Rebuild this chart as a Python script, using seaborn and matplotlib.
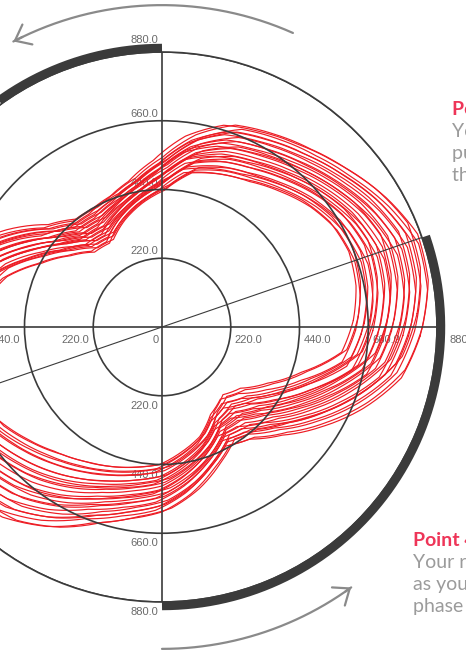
import numpy as np
import pandas as pd
import matplotlib
matplotlib.use('Agg')
import matplotlib.pyplot as plt
import seaborn as sns
from matplotlib.transforms import offset_copy

# ==================== data ====================
# band of loops, inner / outer edge every 10 degrees (0 = east, counter-clockwise)
theta_deg = list(range(0, 360, 10))
r_inner = [608, 630, 640, 630, 602, 566, 534, 515, 496, 432, 397, 358,
           314, 320, 368, 432, 518, 570, 602, 618, 614, 592, 550, 512,
           486, 467, 448, 432, 397, 365, 314, 288, 314, 378, 464, 576]
r_outer = [838, 870, 875, 832, 784, 746, 717, 691, 627, 544, 486, 454,
           442, 445, 496, 595, 688, 768, 826, 858, 864, 848, 826, 800,
           742, 672, 627, 595, 544, 486, 438, 464, 528, 614, 707, 794]

# where each loop sits inside the band, and its small phase shift (deg)
loop_pos = [0.02, 0.05, 0.09, 0.13, 0.17, 0.21, 0.25, 0.29, 0.32, 0.36, 0.40, 0.44, 0.47,
            0.51, 0.55, 0.59, 0.63, 0.67, 0.71, 0.75, 0.79, 0.83, 0.87, 0.91, 0.95, 0.98]
loop_shift = [2, -1, 3, -2, 1, -3, 2, -1, 3, -2, 1, -3, 0,
              3, -1, 2, -3, 1, -2, 2, -2, 1, -1, 3, -2, 0]

ring_ticks = [220, 440, 660, 880]
phase_line_deg = [19, 199]
phase_arcs_deg = [(90, 199), (270, 379)]
arrow_arcs_deg = [(66, 117.5), (270, 306)]
arrow_r = 1030

note_titles = ['Point 1', 'Point 4']
note_bodies = [['Your power builds up', 'pushing down through', 'the front of the stroke'],
               ['Your rear leg recovers', 'as you pull through the', 'phase at the bottom']]

# ==================== style ====================
sns.set_theme(style='white')
plt.rcParams['font.family'] = ['Liberation Sans', 'DejaVu Sans']

dark = '#3b3b3b'
red = '#ed1c24'
grey_arrow = '#8a8a8a'
tick_grey = '#6a6a6a'

# ==================== build the loops ====================
rows = []
for i, (p, s) in enumerate(zip(loop_pos, loop_shift)):
    th = theta_deg + [360]
    ri = r_inner + [r_inner[0]]
    ro = r_outer + [r_outer[0]]
    for t, a, b in zip(th, ri, ro):
        rows.append({'loop': i, 'theta': np.deg2rad(t + s), 'r': a + p * (b - a)})
df = pd.DataFrame(rows)

# ==================== figure ====================
W, H = 466, 652
fig = plt.figure(figsize=(W / 100, H / 100), dpi=100)
cx, cy, R = 162, 327, 275
ax = fig.add_axes([(cx - R) / W, (H - cy - R) / H, 2 * R / W, 2 * R / H], projection='polar')

sns.lineplot(data=df, x='theta', y='r', units='loop', estimator=None, sort=False,
             color=red, lw=0.85, ax=ax, legend=False, zorder=2)
# let the polar transform draw segments in (theta, r) space instead of chords
for ln in ax.lines:
    ln.get_path()._interpolation_steps = 12
ax.set_xlabel('')
ax.set_ylabel('')

ax.set_ylim(0, 880)
ax.set_yticks(ring_ticks)
ax.set_yticklabels([])
ax.set_xticks(np.deg2rad([0, 90, 180, 270]))
ax.set_xticklabels([])
ax.set_axisbelow(False)
ax.xaxis.grid(True, color=dark, lw=1.2)
ax.yaxis.grid(True, color=dark, lw=1.2)
ax.spines['polar'].set_color(dark)
ax.spines['polar'].set_linewidth(1.2)

# diagonal phase line
for d in phase_line_deg:
    ax.plot([np.deg2rad(d)] * 2, [0, 880], color=dark, lw=0.8, zorder=3)

# thick arcs on the outer ring
for t0, t1 in phase_arcs_deg:
    t = np.deg2rad(np.linspace(t0, t1, 200))
    ax.plot(t, np.full_like(t, 893), color=dark, lw=6, solid_capstyle='butt',
            clip_on=False, zorder=4)

# grey direction arrows
for t0, t1 in arrow_arcs_deg:
    t = np.deg2rad(np.linspace(t0, t1, 200))
    ax.plot(t, np.full_like(t, arrow_r), color=grey_arrow, lw=1.6, clip_on=False,
            solid_capstyle='round', zorder=4)
    ax.annotate('', xy=(t[-1], arrow_r), xytext=(t[-8], arrow_r),
                arrowprops=dict(arrowstyle='->,head_length=0.5,head_width=0.4',
                                color=grey_arrow, lw=1.6, shrinkA=0, shrinkB=0,
                                mutation_scale=20),
                annotation_clip=False, zorder=4)


# ring labels along the axes
def ring_label(theta, r, text, dx, dy, ha):
    tr = offset_copy(ax.transData, fig=fig, x=dx, y=dy, units='dots')
    ax.text(theta, r, text, transform=tr, ha=ha, va='baseline', fontsize=8,
            color=tick_grey, zorder=1)


ring_label(0, 0, '0', -3, -16, 'right')
for v in ring_ticks:
    s = f'{v:.1f}'
    ring_label(0, v, s, 13 if v == 880 else 4, -16, 'left')
    ring_label(np.pi, v, s, -4, -16, 'right')
    ring_label(np.pi / 2, v, s, -4, 9 if v == 880 else 4, 'right')
    ring_label(3 * np.pi / 2, v, s, -4, -13, 'right')

# side notes (run off the right edge like the original)
note_pos = [(452, 115), (413, 546)]
for (x, y), title, body in zip(note_pos, note_titles, note_bodies):
    fig.text(x / W, 1 - y / H, title, family=['Lato', 'DejaVu Sans'], fontweight='bold',
             fontsize=14, color='#ee3558', va='baseline', ha='left')
    for k, line in enumerate(body):
        fig.text(x / W, 1 - (y + 22 * (k + 1)) / H, line, family=['Lato', 'DejaVu Sans'],
                 fontsize=14, color='#9b9b9b', va='baseline', ha='left')

fig.savefig('out.png', dpi=100)
